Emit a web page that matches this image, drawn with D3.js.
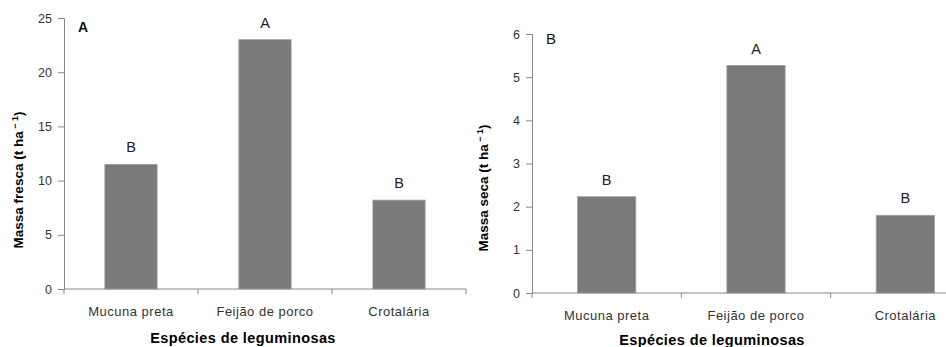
<!DOCTYPE html>
<html>
<head>
<meta charset="utf-8">
<script src="https://cdn.jsdelivr.net/npm/d3@7.9.0/dist/d3.min.js"></script>
<style>
  body { margin: 0; background: #fff; }
  svg { display: block; font-family: "Liberation Sans", Arial, sans-serif; }
</style>
</head>
<body>
<svg id="chart" width="946" height="347"></svg>
<script>
const species = ['Mucuna preta', 'Feijão de porco', 'Crotalária'];
const massaFresca = [11.5, 23.0, 8.2];
const massaSeca = [2.23, 5.27, 1.8];
const lettersFresca = ['B', 'A', 'B'];
const lettersSeca = ['B', 'A', 'B'];
const ticksFresca = [0, 5, 10, 15, 20, 25];
const ticksSeca = [0, 1, 2, 3, 4, 5, 6];

const svg = d3.select('#chart');

function drawPanel(cfg) {
    const g = svg.append('g');
    const x = d3.scaleBand().domain(species).range([cfg.x0, cfg.x1]).paddingInner(0.61).paddingOuter(0.305);
    const y = d3.scaleLinear().domain([0, cfg.max]).range([cfg.y0, cfg.y1]);

    // bars
    g.selectAll('rect.bar')
        .data(cfg.values)
        .join('rect')
        .attr('class', 'bar')
        .attr('x', (d, i) => x(species[i]))
        .attr('width', x.bandwidth())
        .attr('y', (d) => y(d))
        .attr('height', (d) => y(0) - y(d))
        .attr('fill', '#7a7a7a')
        .attr('stroke', '#a0a0a0')
        .attr('stroke-width', 0.8);

    // y axis
    const yAxis = d3.axisLeft(y).tickValues(cfg.ticks).tickFormat(d3.format('d')).tickSize(6).tickPadding(6);
    const ya = g.append('g').attr('transform', `translate(${cfg.x0},0)`).call(yAxis);
    ya.select('.domain').attr('stroke', '#888');
    ya.selectAll('.tick line').attr('stroke', '#888');
    ya.selectAll('.tick text').attr('font-size', 12.5).attr('fill', '#333');

    // x axis: ticks at band edges
    const xa = g.append('g').attr('transform', `translate(0,${cfg.y0})`);
    xa.append('line').attr('x1', cfg.x0).attr('x2', cfg.x1).attr('stroke', '#888');
    const step = x.step();
    const edges = d3.range(species.length + 1).map((i) => x(species[0]) - x.step() * x.paddingOuter() + i * step);
    xa.selectAll('line.tk').data(edges).join('line').attr('class', 'tk')
        .attr('x1', (d) => d).attr('x2', (d) => d).attr('y1', 0).attr('y2', 5).attr('stroke', '#888');
    xa.selectAll('text').data(species).join('text')
        .attr('x', (d) => x(d) + x.bandwidth() / 2)
        .attr('y', cfg.xLabelY - cfg.y0)
        .attr('text-anchor', 'middle')
        .attr('font-size', 13)
        .attr('letter-spacing', 0.5)
        .attr('fill', '#333')
        .text((d) => d);

    // significance letters
    g.selectAll('text.letter').data(cfg.values).join('text')
        .attr('class', 'letter')
        .attr('x', (d, i) => x(species[i]) + x.bandwidth() / 2)
        .attr('y', (d) => y(d) - 12)
        .attr('text-anchor', 'middle')
        .attr('font-size', 14.5)
        .attr('fill', '#222')
        .text((d, i) => cfg.letters[i]);

    // panel letter
    g.append('text').attr('x', cfg.x0 + 14).attr('y', cfg.panelY)
        .attr('font-size', cfg.panelSize).attr('font-weight', cfg.panelBold ? 'bold' : 'normal').attr('fill', '#111')
        .text(cfg.panel);

    // x title
    g.append('text').attr('x', cfg.xTitleX).attr('y', cfg.xTitleY)
        .attr('text-anchor', 'middle').attr('font-size', 14.5).attr('font-weight', 'bold')
        .attr('letter-spacing', 0.4)
        .text('Espécies  de leguminosas');

    // y title
    const yt = g.append('text')
        .attr('transform', `translate(${cfg.yTitleX},${cfg.yTitleY}) rotate(-90)`)
        .attr('text-anchor', 'middle').attr('font-size', 13.5).attr('font-weight', 'bold');
    yt.append('tspan').text(cfg.yTitle + '  (t ha');
    yt.append('tspan').attr('dy', -5).attr('font-size', 9).text(' \u2212 1');
    yt.append('tspan').attr('dy', 5).text(')');
}

drawPanel({
    values: massaFresca, letters: lettersFresca, ticks: ticksFresca, max: 25,
    x0: 64, x1: 466, y0: 289, y1: 18,
    xLabelY: 316, xTitleX: 243, xTitleY: 343,
    yTitle: 'Massa fresca', yTitleX: 23, yTitleY: 180,
    panel: 'A', panelY: 32, panelBold: true, panelSize: 14
});

drawPanel({
    values: massaSeca, letters: lettersSeca, ticks: ticksSeca, max: 6,
    x0: 532, x1: 980, y0: 293, y1: 34,
    xLabelY: 320, xTitleX: 712, xTitleY: 345,
    yTitle: 'Massa seca', yTitleX: 488, yTitleY: 188,
    panel: 'B', panelY: 44, panelBold: false, panelSize: 15
});
</script>
</body>
</html>
